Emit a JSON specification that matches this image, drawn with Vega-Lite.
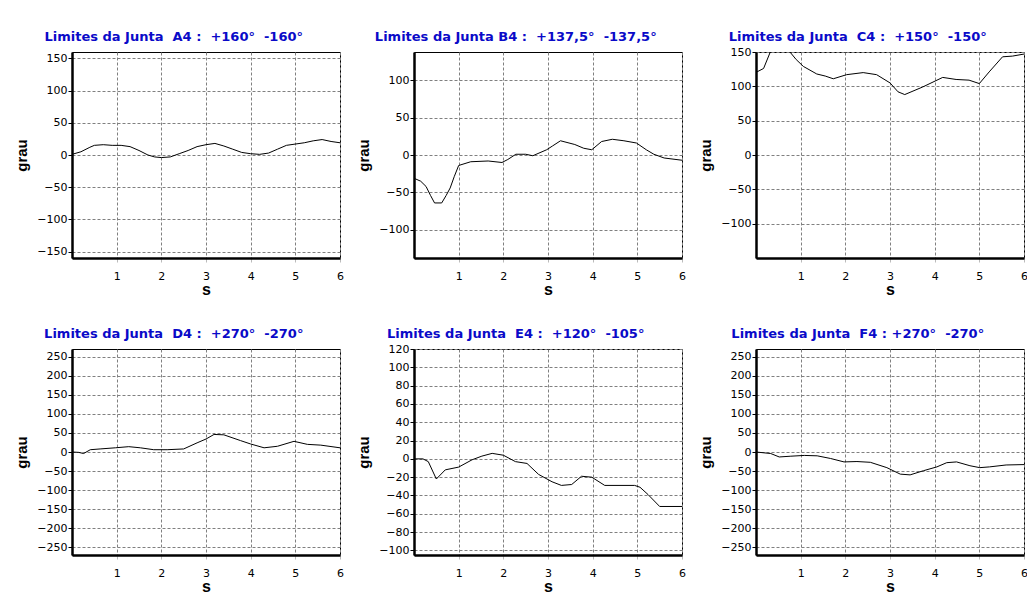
{
  "$schema": "https://vega.github.io/schema/vega-lite/v6.json",
  "background": "white",
  "padding": {"left": 13, "top": 30, "right": 0, "bottom": 0},
  "spacing": 29,
  "config": {
    "font": "DejaVu Sans",
    "view": {"stroke": "black", "strokeWidth": 1},
    "title": {"color": "#0a0ac8", "font": "DejaVu Sans", "fontSize": 13, "fontWeight": "bold", "anchor": "middle", "frame": "bounds", "dx": -5, "offset": 8},
    "axis": {"gridColor": "#808080", "gridDash": [3, 2], "gridOpacity": 1, "gridWidth": 1, "domainColor": "black", "domainWidth": 2.5, "labelFont": "DejaVu Sans", "labelFontSize": 11, "labelColor": "black", "titleFont": "Liberation Sans", "titleFontWeight": "bold", "titleColor": "black", "labelFlush": false, "labelOverlap": false},
    "axisX": {"tickSize": 4, "tickColor": "#bbbbbb", "labelPadding": 8, "titleFontSize": 16, "titlePadding": 0},
    "axisY": {"tickSize": 4, "tickColor": "black", "labelPadding": 1, "minExtent": 32, "maxExtent": 32, "titlePadding": 11, "titleFontSize": 15}
  },
  "vconcat": [
    {
      "spacing": 11,
      "hconcat": [
        {
          "width": 268, "height": 206,
          "title": "Limites da Junta\u00a0 A4 :\u00a0 +160°\u00a0 -160°",
          "data": {"values": [
            {"t": 0, "grau": 1}, {"t": 0.2, "grau": 5}, {"t": 0.4, "grau": 12}, {"t": 0.5, "grau": 15}, {"t": 0.7, "grau": 16}, {"t": 0.9, "grau": 15}, {"t": 1.1, "grau": 15}, {"t": 1.3, "grau": 13}, {"t": 1.5, "grau": 7}, {"t": 1.7, "grau": 0}, {"t": 1.85, "grau": -3}, {"t": 2.0, "grau": -4}, {"t": 2.2, "grau": -3}, {"t": 2.4, "grau": 2}, {"t": 2.6, "grau": 7}, {"t": 2.8, "grau": 13}, {"t": 3.0, "grau": 16}, {"t": 3.2, "grau": 18}, {"t": 3.4, "grau": 14}, {"t": 3.6, "grau": 9}, {"t": 3.8, "grau": 4}, {"t": 4.0, "grau": 2}, {"t": 4.2, "grau": 1}, {"t": 4.4, "grau": 3}, {"t": 4.6, "grau": 9}, {"t": 4.8, "grau": 15}, {"t": 5.0, "grau": 17}, {"t": 5.2, "grau": 19}, {"t": 5.4, "grau": 22}, {"t": 5.6, "grau": 24}, {"t": 5.8, "grau": 21}, {"t": 6.0, "grau": 19}
          ]},
          "mark": {"type": "line", "color": "black", "strokeWidth": 1, "clip": true},
          "encoding": {
            "x": {"field": "t", "type": "quantitative", "scale": {"domain": [0, 6], "nice": false}, "axis": {"values": [1, 2, 3, 4, 5, 6], "title": "s"}},
            "y": {"field": "grau", "type": "quantitative", "scale": {"domain": [-160, 160], "nice": false, "zero": false}, "axis": {"values": [-150, -100, -50, 0, 50, 100, 150], "title": "grau"}}
          }
        },
        {
          "width": 268, "height": 206,
          "title": "Limites da Junta B4 :\u00a0 +137,5°\u00a0 -137,5°",
          "data": {"values": [
            {"t": 0, "grau": -31}, {"t": 0.15, "grau": -35}, {"t": 0.27, "grau": -42}, {"t": 0.37, "grau": -54}, {"t": 0.46, "grau": -64}, {"t": 0.62, "grau": -64}, {"t": 0.72, "grau": -54}, {"t": 0.81, "grau": -44}, {"t": 0.9, "grau": -29}, {"t": 1.0, "grau": -14}, {"t": 1.27, "grau": -9}, {"t": 1.66, "grau": -8}, {"t": 1.97, "grau": -10}, {"t": 2.1, "grau": -6}, {"t": 2.28, "grau": 1}, {"t": 2.5, "grau": 1}, {"t": 2.66, "grau": -1}, {"t": 2.97, "grau": 7}, {"t": 3.1, "grau": 12}, {"t": 3.28, "grau": 19}, {"t": 3.6, "grau": 14}, {"t": 3.8, "grau": 9}, {"t": 3.98, "grau": 7}, {"t": 4.2, "grau": 18}, {"t": 4.44, "grau": 21}, {"t": 4.7, "grau": 19}, {"t": 4.98, "grau": 16}, {"t": 5.2, "grau": 7}, {"t": 5.37, "grau": 1}, {"t": 5.6, "grau": -4}, {"t": 6.0, "grau": -7}
          ]},
          "mark": {"type": "line", "color": "black", "strokeWidth": 1, "clip": true},
          "encoding": {
            "x": {"field": "t", "type": "quantitative", "scale": {"domain": [0, 6], "nice": false}, "axis": {"values": [1, 2, 3, 4, 5, 6], "title": "s"}},
            "y": {"field": "grau", "type": "quantitative", "scale": {"domain": [-137.5, 137.5], "nice": false, "zero": false}, "axis": {"values": [-100, -50, 0, 50, 100], "title": "grau"}}
          }
        },
        {
          "width": 268, "height": 206,
          "title": {"text": "Limites da Junta\u00a0 C4 :\u00a0 +150°\u00a0 -150°", "offset": 2},
          "data": {"values": [
            {"t": 0.02, "grau": 121}, {"t": 0.17, "grau": 126}, {"t": 0.32, "grau": 150}, {"t": 0.5, "grau": 160}, {"t": 0.65, "grau": 158}, {"t": 0.76, "grau": 150}, {"t": 0.9, "grau": 139}, {"t": 1.06, "grau": 129}, {"t": 1.36, "grau": 118}, {"t": 1.55, "grau": 115}, {"t": 1.73, "grau": 111}, {"t": 2.03, "grau": 117}, {"t": 2.4, "grau": 120}, {"t": 2.7, "grau": 117}, {"t": 3.0, "grau": 105}, {"t": 3.18, "grau": 92}, {"t": 3.33, "grau": 88}, {"t": 3.73, "grau": 99}, {"t": 4.18, "grau": 113}, {"t": 4.48, "grau": 110}, {"t": 4.77, "grau": 109}, {"t": 5.0, "grau": 104}, {"t": 5.22, "grau": 121}, {"t": 5.52, "grau": 143}, {"t": 5.74, "grau": 144}, {"t": 6.0, "grau": 147}
          ]},
          "mark": {"type": "line", "color": "black", "strokeWidth": 1, "clip": true},
          "encoding": {
            "x": {"field": "t", "type": "quantitative", "scale": {"domain": [0, 6], "nice": false}, "axis": {"values": [1, 2, 3, 4, 5, 6], "title": "s"}},
            "y": {"field": "grau", "type": "quantitative", "scale": {"domain": [-150, 150], "nice": false, "zero": false}, "axis": {"values": [-100, -50, 0, 50, 100, 150], "title": "grau"}}
          }
        }
      ]
    },
    {
      "spacing": 11,
      "hconcat": [
        {
          "width": 268, "height": 206,
          "title": "Limites da Junta\u00a0 D4 :\u00a0 +270°\u00a0 -270°",
          "data": {"values": [
            {"t": 0, "grau": 0}, {"t": 0.15, "grau": -1}, {"t": 0.26, "grau": -4}, {"t": 0.41, "grau": 6}, {"t": 0.63, "grau": 8}, {"t": 0.97, "grau": 11}, {"t": 1.27, "grau": 14}, {"t": 1.53, "grau": 11}, {"t": 1.83, "grau": 6}, {"t": 2.13, "grau": 6}, {"t": 2.5, "grau": 8}, {"t": 2.8, "grau": 24}, {"t": 3.0, "grau": 34}, {"t": 3.18, "grau": 46}, {"t": 3.4, "grau": 45}, {"t": 3.77, "grau": 30}, {"t": 4.0, "grau": 21}, {"t": 4.3, "grau": 11}, {"t": 4.6, "grau": 15}, {"t": 4.97, "grau": 28}, {"t": 5.27, "grau": 20}, {"t": 5.57, "grau": 18}, {"t": 6.0, "grau": 11}
          ]},
          "mark": {"type": "line", "color": "black", "strokeWidth": 1, "clip": true},
          "encoding": {
            "x": {"field": "t", "type": "quantitative", "scale": {"domain": [0, 6], "nice": false}, "axis": {"values": [1, 2, 3, 4, 5, 6], "title": "s"}},
            "y": {"field": "grau", "type": "quantitative", "scale": {"domain": [-270, 270], "nice": false, "zero": false}, "axis": {"values": [-250, -200, -150, -100, -50, 0, 50, 100, 150, 200, 250], "title": "grau"}}
          }
        },
        {
          "width": 268, "height": 206,
          "title": {"text": "Limites da Junta\u00a0 E4 :\u00a0 +120°\u00a0 -105°", "offset": 2},
          "data": {"values": [
            {"t": 0, "grau": 0}, {"t": 0.2, "grau": 0}, {"t": 0.32, "grau": -3}, {"t": 0.5, "grau": -22}, {"t": 0.7, "grau": -12}, {"t": 1.0, "grau": -9}, {"t": 1.3, "grau": -1}, {"t": 1.52, "grau": 3}, {"t": 1.75, "grau": 6}, {"t": 2.0, "grau": 4}, {"t": 2.27, "grau": -3}, {"t": 2.53, "grau": -5}, {"t": 2.79, "grau": -17}, {"t": 3.09, "grau": -25}, {"t": 3.3, "grau": -29}, {"t": 3.53, "grau": -28}, {"t": 3.75, "grau": -19}, {"t": 3.98, "grau": -20}, {"t": 4.27, "grau": -29}, {"t": 4.94, "grau": -29}, {"t": 5.06, "grau": -31}, {"t": 5.24, "grau": -39}, {"t": 5.5, "grau": -52}, {"t": 6.0, "grau": -52}
          ]},
          "mark": {"type": "line", "color": "black", "strokeWidth": 1, "clip": true},
          "encoding": {
            "x": {"field": "t", "type": "quantitative", "scale": {"domain": [0, 6], "nice": false}, "axis": {"values": [1, 2, 3, 4, 5, 6], "title": "s"}},
            "y": {"field": "grau", "type": "quantitative", "scale": {"domain": [-105, 120], "nice": false, "zero": false}, "axis": {"values": [-100, -80, -60, -40, -20, 0, 20, 40, 60, 80, 100, 120], "title": "grau"}}
          }
        },
        {
          "width": 268, "height": 206,
          "title": "Limites da Junta\u00a0 F4 : +270°\u00a0 -270°",
          "data": {"values": [
            {"t": 0, "grau": 0}, {"t": 0.33, "grau": -4}, {"t": 0.52, "grau": -13}, {"t": 0.78, "grau": -11}, {"t": 1.08, "grau": -9}, {"t": 1.37, "grau": -10}, {"t": 1.67, "grau": -17}, {"t": 1.97, "grau": -26}, {"t": 2.26, "grau": -25}, {"t": 2.56, "grau": -27}, {"t": 2.93, "grau": -41}, {"t": 3.23, "grau": -58}, {"t": 3.45, "grau": -60}, {"t": 3.75, "grau": -49}, {"t": 4.05, "grau": -39}, {"t": 4.27, "grau": -28}, {"t": 4.49, "grau": -26}, {"t": 4.79, "grau": -36}, {"t": 5.01, "grau": -41}, {"t": 5.23, "grau": -39}, {"t": 5.6, "grau": -34}, {"t": 6.0, "grau": -33}
          ]},
          "mark": {"type": "line", "color": "black", "strokeWidth": 1, "clip": true},
          "encoding": {
            "x": {"field": "t", "type": "quantitative", "scale": {"domain": [0, 6], "nice": false}, "axis": {"values": [1, 2, 3, 4, 5, 6], "title": "s"}},
            "y": {"field": "grau", "type": "quantitative", "scale": {"domain": [-270, 270], "nice": false, "zero": false}, "axis": {"values": [-250, -200, -150, -100, -50, 0, 50, 100, 150, 200, 250], "title": "grau"}}
          }
        }
      ]
    }
  ]
}
